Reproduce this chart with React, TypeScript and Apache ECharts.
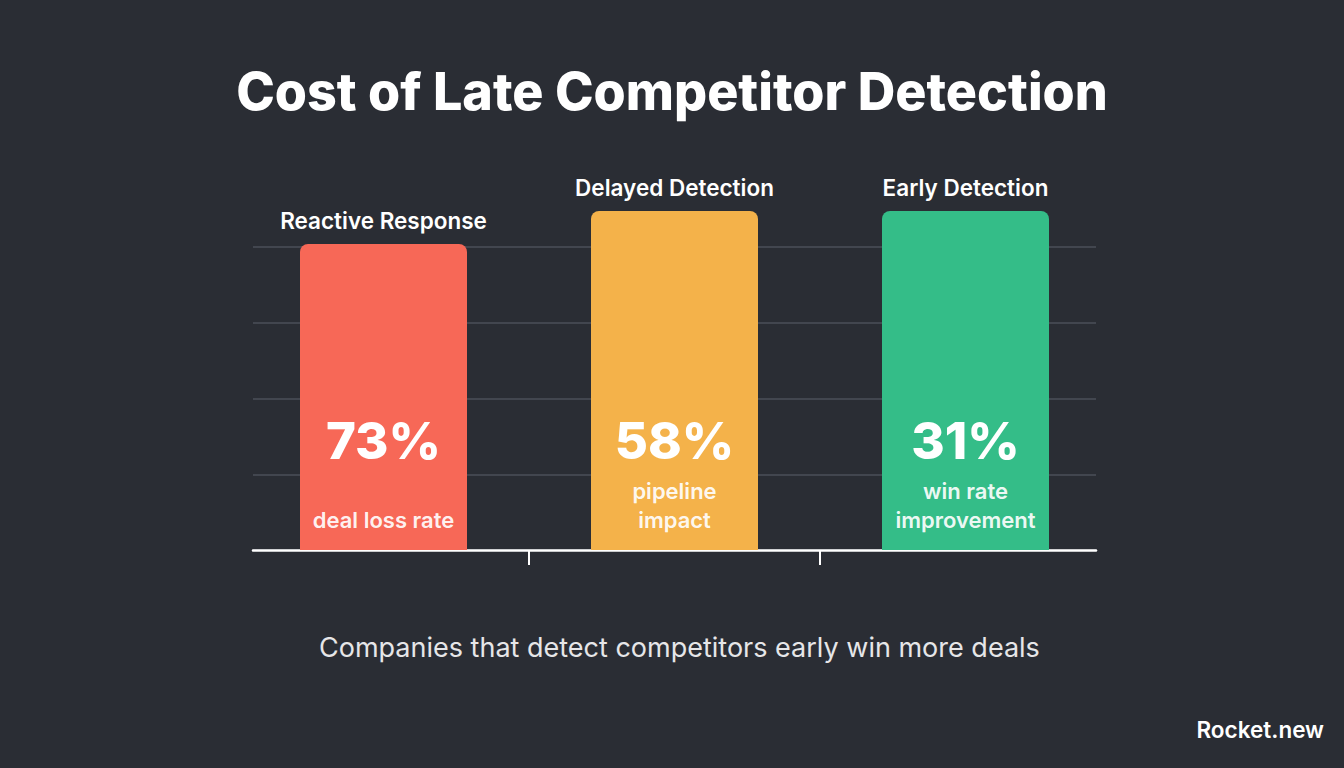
import React, { useEffect, useRef } from "react";
import * as echarts from "echarts";

const categories = ["Reactive Response", "Delayed Detection", "Early Detection"];
const barHeights = [80.8, 89.5, 89.5];
const percentLabels = ["73%", "58%", "31%"];
const descriptions = ["deal loss rate", "pipeline\nimpact", "win rate\nimprovement"];
const barColors = ["#f76857", "#f4b24a", "#34bd88"];
const tickSlots = ["b0", "b1", "b2", "b3"];
const yTicks = [0, 20, 40, 60, 80];

const FONT = "Inter, 'Noto Sans', sans-serif";

export default function App() {
  const ref = useRef<HTMLDivElement>(null);
  useEffect(() => {
    if (!ref.current) return;
    const chart = echarts.init(ref.current, null, { renderer: "svg" });
    const yMin = yTicks[0];
    const yMax = yTicks[yTicks.length - 1];
    const yInt = yTicks[1] - yTicks[0];
    chart.setOption({
      animation: false,
      backgroundColor: "#2a2d34",
      textStyle: { fontFamily: FONT },
      title: [
        {
          text: "Cost of Late Competitor Detection",
          left: "center",
          top: 60,
          textStyle: { color: "#ffffff", fontSize: 52, fontWeight: 800, fontFamily: FONT },
        },
        {
          text: "Companies that detect competitors early win more deals",
          left: 314,
          top: 629,
          textStyle: { color: "#e6e6e8", fontSize: 27, fontWeight: 400, fontFamily: FONT },
        },
        {
          text: "Rocket.new",
          right: 15,
          top: 713,
          textStyle: { color: "#ffffff", fontSize: 22.5, fontWeight: 600, fontFamily: FONT },
        },
      ],
      grid: [
        { left: 238, right: 233, top: 247, bottom: 218 },
        { left: 253, right: 248, top: 247, bottom: 218 },
      ],
      xAxis: [
        {
          type: "category",
          gridIndex: 0,
          data: categories,
          boundaryGap: true,
          axisLine: { show: false },
          axisTick: { show: false },
          axisLabel: { show: false },
        },
        {
          type: "category",
          gridIndex: 0,
          data: tickSlots,
          boundaryGap: false,
          position: "bottom",
          axisLine: { show: false },
          axisLabel: { show: false },
          axisTick: {
            show: true,
            length: 15,
            interval: (idx: number) => idx > 0 && idx < tickSlots.length - 1,
            lineStyle: { color: "#ffffff", width: 2 },
          },
        },
        {
          type: "value",
          gridIndex: 1,
          min: 0,
          max: 1,
          axisLine: { show: true, lineStyle: { color: "#ffffff", width: 2.5 } },
          axisTick: { show: false },
          axisLabel: { show: false },
          splitLine: { show: false },
        },
      ],
      yAxis: [
        {
          type: "value",
          gridIndex: 0,
          min: yMin,
          max: yMax,
          interval: yInt,
          axisLine: { show: false },
          axisTick: { show: false },
          axisLabel: { show: false },
          splitLine: { show: false },
        },
        {
          type: "value",
          gridIndex: 1,
          min: yMin,
          max: yMax,
          interval: yInt,
          axisLine: { show: false },
          axisTick: { show: false },
          axisLabel: { show: false },
          splitLine: { show: true, lineStyle: { color: "#4b4f58", width: 1.5 } },
        },
      ],
      series: [
        {
          type: "bar",
          xAxisIndex: 0,
          yAxisIndex: 0,
          clip: false,
          barWidth: 167,
          z: 3,
          data: barHeights.map((v, i) => ({
            value: v,
            itemStyle: { color: barColors[i], borderRadius: [8, 8, 0, 0] },
          })),
          label: {
            show: true,
            position: "insideBottom",
            distance: 16,
            align: "center",
            formatter: (p: any) => {
              const i = p.dataIndex;
              const lines = descriptions[i].split("\n");
              const sub = lines.length === 1 ? ["{s| }", `{s|${lines[0]}}`] : lines.map((l) => `{s|${l}}`);
              return [`{v|${percentLabels[i]}}`, ...sub].join("\n");
            },
            rich: {
              v: {
                color: "#ffffff",
                fontSize: 51,
                fontWeight: 800,
                lineHeight: 71,
                fontFamily: FONT,
                align: "center",
              },
              s: {
                color: "rgba(255,255,255,0.93)",
                fontSize: 22,
                fontWeight: 600,
                lineHeight: 29,
                fontFamily: FONT,
                align: "center",
              },
            },
          },
        },
        {
          type: "bar",
          xAxisIndex: 0,
          yAxisIndex: 0,
          clip: false,
          barWidth: 167,
          barGap: "-100%",
          z: 4,
          silent: true,
          data: barHeights,
          itemStyle: { color: "rgba(0,0,0,0)" },
          label: {
            show: true,
            position: "top",
            distance: 12,
            formatter: (p: any) => categories[p.dataIndex],
            color: "#ffffff",
            fontSize: 22.5,
            fontWeight: 600,
            fontFamily: FONT,
          },
        },
      ],
    });
    return () => chart.dispose();
  }, []);
  return (
    <div
      ref={ref}
      style={{ position: "fixed", left: 0, top: 0, width: 1344, height: 768 }}
    />
  );
}
